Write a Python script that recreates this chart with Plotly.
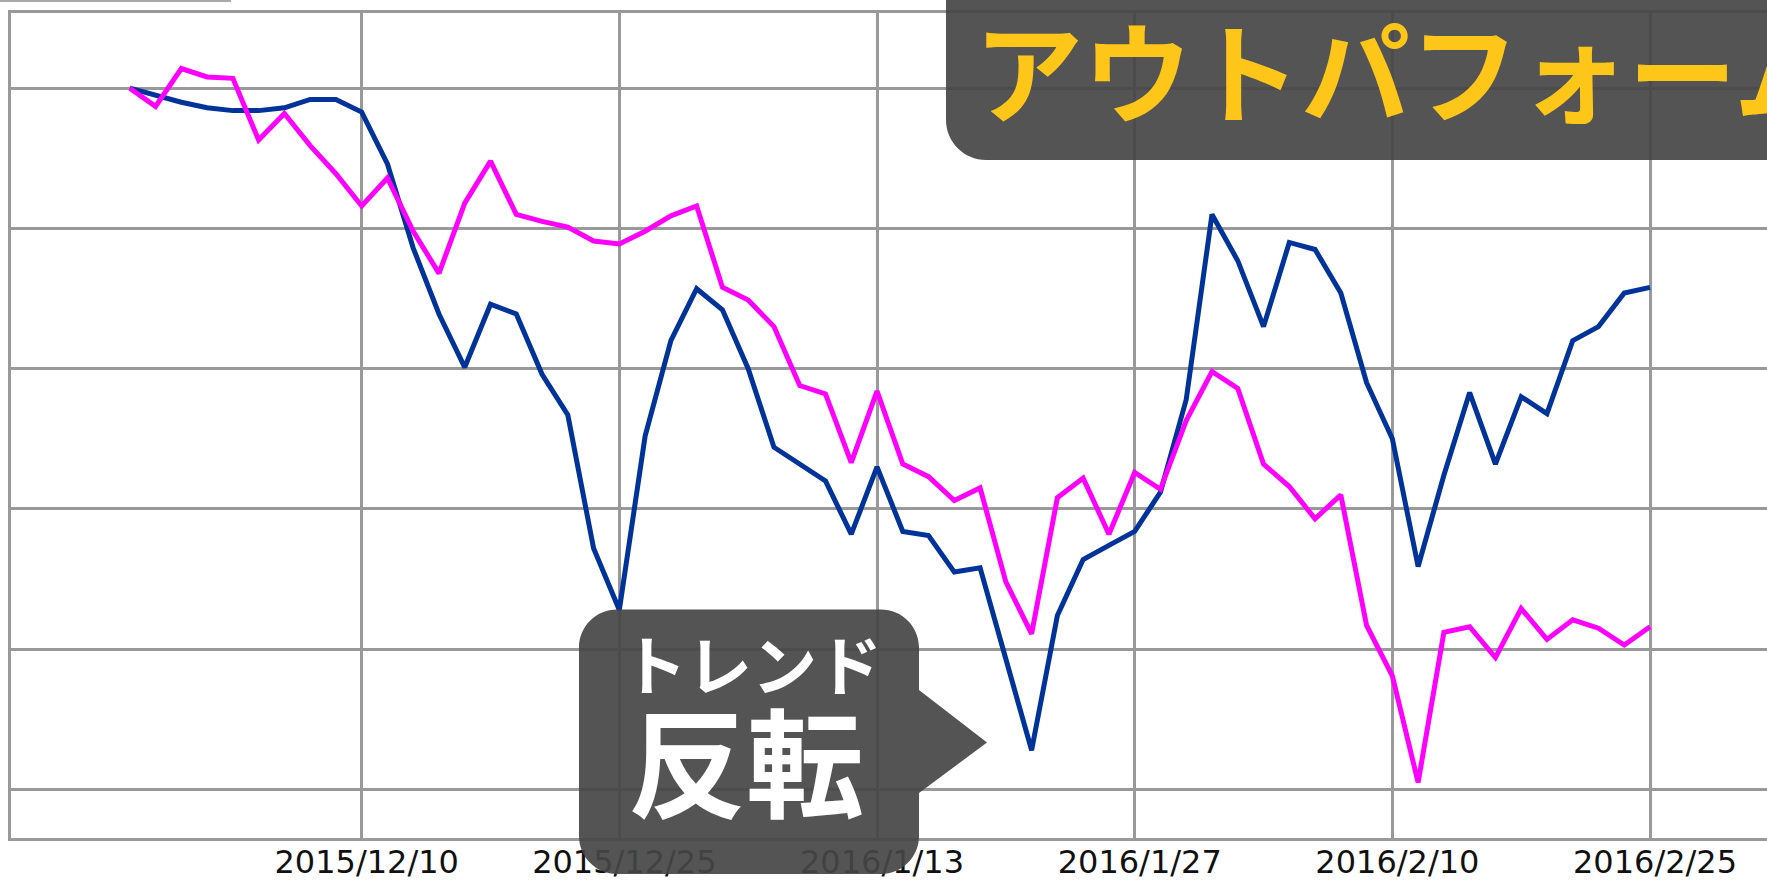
import plotly.graph_objects as go

# ---------------- data ----------------
dates = [
    "2015/11/27", "2015/11/30",
    "2015/12/1", "2015/12/2", "2015/12/3", "2015/12/4", "2015/12/7", "2015/12/8",
    "2015/12/9", "2015/12/10", "2015/12/11", "2015/12/14", "2015/12/15", "2015/12/16",
    "2015/12/17", "2015/12/18", "2015/12/21", "2015/12/22", "2015/12/24", "2015/12/25",
    "2015/12/28", "2015/12/29", "2015/12/30",
    "2016/1/4", "2016/1/5", "2016/1/6", "2016/1/7", "2016/1/8", "2016/1/12", "2016/1/13",
    "2016/1/14", "2016/1/15", "2016/1/18", "2016/1/19", "2016/1/20", "2016/1/21",
    "2016/1/22", "2016/1/25", "2016/1/26", "2016/1/27", "2016/1/28", "2016/1/29",
    "2016/2/1", "2016/2/2", "2016/2/3", "2016/2/4", "2016/2/5", "2016/2/8", "2016/2/9",
    "2016/2/10", "2016/2/12", "2016/2/15", "2016/2/16", "2016/2/17", "2016/2/18",
    "2016/2/19", "2016/2/22", "2016/2/23", "2016/2/24", "2016/2/25",
]

stock = [
    100.0, 99.75, 99.5, 99.3, 99.2, 99.2, 99.3, 99.6, 99.6,
    99.15, 97.3, 94.3, 91.95, 90.05, 92.3, 91.95, 89.8, 88.35, 83.6,
    81.4, 87.6, 91.0, 92.85, 92.1, 90.0, 87.2, 86.6, 86.0, 84.1,
    86.5, 84.2, 84.05, 82.75, 82.9, 79.65, 76.4, 81.2, 83.2, 83.7,
    84.2, 85.6, 88.9, 95.5, 93.85, 91.5, 94.5, 94.25, 92.7, 89.5,
    87.5, 82.95, 86.2, 89.15, 86.6, 89.0, 88.4, 91.0, 91.5, 92.7,
    92.9,
]

index225 = [
    100.0, 99.35, 100.7, 100.4, 100.35, 98.15, 99.1, 97.95, 96.95,
    95.8, 96.8, 94.9, 93.4, 95.9, 97.4, 95.5, 95.25, 95.05, 94.55,
    94.45, 94.9, 95.45, 95.8, 92.9, 92.45, 91.5, 89.4, 89.1, 86.65,
    89.2, 86.6, 86.15, 85.3, 85.75, 82.4, 80.55, 85.4, 86.1, 84.1,
    86.3, 85.7, 88.15, 89.9, 89.3, 86.6, 85.8, 84.65, 85.5, 80.85,
    79.05, 75.25, 80.6, 80.8, 79.7, 81.45, 80.35, 81.05, 80.75, 80.15,
    80.8,
]

tick_dates = ["2015/12/10", "2015/12/25", "2016/1/13", "2016/1/27", "2016/2/10", "2016/2/25"]

label_top = "アウトパフォーム"
label_trend = "トレンド"
label_rev = "反転"

# ---------------- geometry helpers ----------------
W, H = 1767, 881
ML, MR, MT, MB = 11, 0, 13, 43
PW = W - ML - MR
PH = H - MT - MB


def X(px):
    return (px - ML) / PW


def Y(py):
    return (H - MB - py) / PH


def pt(px, py):
    return f"{X(px):.6f},{Y(py):.6f}"


K = 0.5523


def corner(x0, y0, x1, y1, cx, cy):
    c1 = (x0 + (cx - x0) * K, y0 + (cy - y0) * K)
    c2 = (x1 + (cx - x1) * K, y1 + (cy - y1) * K)
    return f" C{pt(*c1)} {pt(*c2)} {pt(x1, y1)}"


def rounded_box(l, t, r, b, rad, arrow=None):
    p = f"M{pt(l + rad, t)} L{pt(r - rad, t)}"
    p += corner(r - rad, t, r, t + rad, r, t)
    if arrow:
        ay0, tipx, tipy, ay1 = arrow
        p += f" L{pt(r, ay0)} L{pt(tipx, tipy)} L{pt(r, ay1)}"
    p += f" L{pt(r, b - rad)}"
    p += corner(r, b - rad, r - rad, b, r, b)
    p += f" L{pt(l + rad, b)}"
    p += corner(l + rad, b, l, b - rad, l, b)
    p += f" L{pt(l, t + rad)}"
    p += corner(l, t + rad, l + rad, t, l, t)
    p += " Z"
    return p


BOX = "rgba(69,69,69,0.92)"
GRID = "#999999"

fig = go.Figure()
fig.add_trace(go.Scatter(x=dates, y=stock, mode="lines",
                         line=dict(color="#003399", width=5), showlegend=False))
fig.add_trace(go.Scatter(x=dates, y=index225, mode="lines",
                         line=dict(color="#FF00FF", width=5), showlegend=False))

fig.update_layout(
    width=W, height=H,
    margin=dict(l=ML, r=MR, t=MT, b=MB, autoexpand=False),
    paper_bgcolor="white", plot_bgcolor="white",
    showlegend=False,
    xaxis=dict(
        type="category", range=[-4.61, 63.54], automargin=False,
        tickmode="array", tickvals=tick_dates, ticktext=tick_dates,
        tickfont=dict(family="DejaVu Sans", size=32, color="#111111"),
        showgrid=True, gridcolor=GRID, gridwidth=2.5,
        showline=True, linecolor=GRID, linewidth=2.5, mirror=True,
        ticks="", ticklabelstandoff=-6, ticklabelshift=5,
        zeroline=False,
    ),
    yaxis=dict(
        range=[73.27, 102.68], tick0=0, dtick=5, automargin=False,
        showticklabels=False,
        showgrid=True, gridcolor=GRID, gridwidth=2.5,
        showline=True, linecolor=GRID, linewidth=2.5, mirror=False,
        zeroline=False, ticks="",
    ),
)

shapes = [
    dict(type="path", xref="paper", yref="paper", layer="above",
         path=rounded_box(946, -60, 1830, 160, 40),
         fillcolor=BOX, line=dict(width=0)),
    dict(type="path", xref="paper", yref="paper", layer="above",
         path=rounded_box(579, 609.5, 919, 874, 38, arrow=(690, 987, 742.5, 793)),
         fillcolor=BOX, line=dict(width=0)),
    dict(type="line", xref="paper", yref="paper", layer="above",
         x0=X(0), x1=X(231), y0=Y(1), y1=Y(1),
         line=dict(color="#aaaaaa", width=2)),
]
fig.update_layout(shapes=shapes)

cjk = "Noto Sans CJK JP"
fig.add_annotation(xref="paper", yref="paper", x=X(972), y=Y(68), xanchor="left", yanchor="middle",
                   text=label_top, showarrow=False,
                   font=dict(family=cjk, size=109, color="#FFC61A", weight="bold"))
fig.add_annotation(xref="paper", yref="paper", x=X(752), y=Y(662), xanchor="center", yanchor="middle",
                   text=label_trend, showarrow=False,
                   font=dict(family=cjk, size=65, color="white", weight="bold"))
fig.add_annotation(xref="paper", yref="paper", x=X(746), y=Y(757), xanchor="center", yanchor="middle",
                   text=label_rev, showarrow=False,
                   font=dict(family=cjk, size=118, color="white", weight="bold"))

fig.write_html("out.html", config={"displayModeBar": False},
               post_script="document.body.style.margin='0px';")
